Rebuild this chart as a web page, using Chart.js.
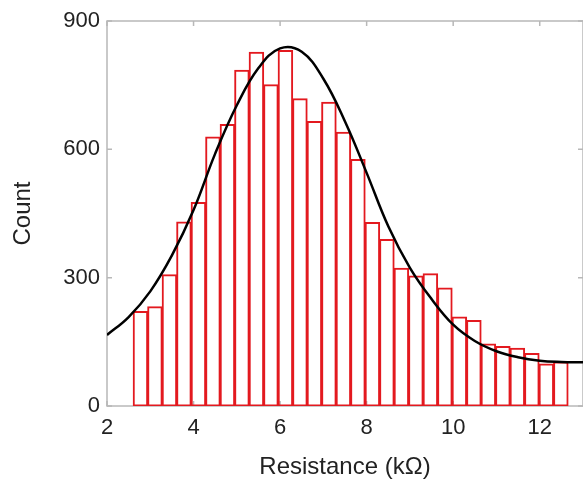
<!DOCTYPE html>
<html lang="en">
<head>
  <meta charset="utf-8">
  <title>Resistance histogram</title>
  <script src="https://cdn.jsdelivr.net/npm/chart.js@4.4.0/dist/chart.umd.min.js"></script>
  <style>
    body { margin: 0; background: #fff; }
  </style>
</head>
<body>
  <canvas id="myChart" width="583" height="484"></canvas>
  <script>
    // histogram bins (kOhm, bin centres) and counts
    const binCenters = [2.773, 3.108, 3.443, 3.778, 4.113, 4.448, 4.783, 5.118, 5.453, 5.788,
      6.123, 6.458, 6.793, 7.128, 7.463, 7.798, 8.133, 8.468, 8.803, 9.138,
      9.473, 9.808, 10.143, 10.478, 10.813, 11.148, 11.483, 11.818, 12.153, 12.488];
    const counts = [221, 232, 307, 430, 476, 629, 658, 785, 827, 751,
      831, 718, 665, 710, 640, 576, 429, 389, 322, 304,
      309, 276, 208, 200, 145, 139, 135, 123, 98, 103];

    // fitted curve
    const fitX = [2, 2.5, 3, 3.5, 4, 4.5, 5, 5.5, 6, 6.5, 7, 7.5, 8, 8.5, 9, 9.5, 10, 10.5, 11, 11.5, 12, 12.5, 13];
    const fitY = [166, 208, 268, 352, 458, 590, 703, 790, 836, 828, 765, 665, 545, 420, 323, 250, 190, 152, 128, 114, 106, 103, 102];

    const yTicks = [0, 300, 600, 900];

    const frameColor = '#b8b8b8';

    const framePlugin = {
      id: 'frame',
      beforeDatasetsDraw(chart) {
        const { ctx, chartArea: a, scales } = chart;
        ctx.save();
        ctx.strokeStyle = frameColor;
        ctx.lineWidth = 1.5;
        ctx.strokeRect(a.left, a.top, a.right - a.left, a.bottom - a.top);
        ctx.beginPath();
        scales.x.ticks.forEach(t => {
          const px = scales.x.getPixelForValue(t.value);
          ctx.moveTo(px, a.bottom); ctx.lineTo(px, a.bottom - 5);
          ctx.moveTo(px, a.top); ctx.lineTo(px, a.top + 5);
        });
        scales.y.ticks.forEach(t => {
          const py = scales.y.getPixelForValue(t.value);
          ctx.moveTo(a.left, py); ctx.lineTo(a.left + 5, py);
          ctx.moveTo(a.right, py); ctx.lineTo(a.right - 5, py);
        });
        ctx.stroke();
        ctx.restore();
      }
    };

    const font = 'Liberation Sans, Arial, sans-serif';

    new Chart(document.getElementById('myChart'), {
      type: 'bar',
      data: {
        datasets: [{
          type: 'line',
          data: fitX.map((x, i) => ({ x: x, y: fitY[i] })),
          borderColor: '#000',
          borderWidth: 2.5,
          pointRadius: 0,
          fill: false,
          tension: 0.4,
          order: 0
        }, {
          type: 'bar',
          data: binCenters.map((x, i) => ({ x: x, y: counts[i] })),
          backgroundColor: 'rgba(0,0,0,0)',
          borderColor: '#e3191f',
          borderWidth: 1,
          inflateAmount: 0.5,
          borderSkipped: false,
          barPercentage: 1,
          categoryPercentage: 1,
          order: 1
        }]
      },
      options: {
        responsive: false,
        animation: false,
        layout: { padding: { top: 21, right: 0, bottom: 0, left: 0 } },
        plugins: { legend: { display: false }, tooltip: { enabled: false } },
        scales: {
          x: {
            type: 'linear',
            min: 2,
            max: 13,
            offset: false,
            grid: { display: false, drawTicks: false },
            border: { display: false },
            ticks: {
              stepSize: 2,
              includeBounds: false,
              padding: 9,
              color: '#222',
              font: { family: font, size: 22 }
            },
            title: {
              display: true,
              text: 'Resistance (kΩ)',
              color: '#222',
              font: { family: font, size: 24 },
              padding: { top: 0, bottom: 2 }
            },
            afterFit(scale) { scale.height = 78; }
          },
          y: {
            min: 0,
            max: 900,
            grid: { display: false, drawTicks: false },
            border: { display: false },
            afterBuildTicks(scale) { scale.ticks = yTicks.map(v => ({ value: v })); },
            ticks: {
              padding: 7,
              color: '#222',
              font: { family: font, size: 22 }
            },
            title: {
              display: true,
              text: 'Count',
              color: '#222',
              font: { family: font, size: 24 },
              padding: { top: 9, bottom: 0 }
            },
            afterFit(scale) { scale.width = 107; }
          }
        }
      },
      plugins: [framePlugin]
    });
  </script>
</body>
</html>
